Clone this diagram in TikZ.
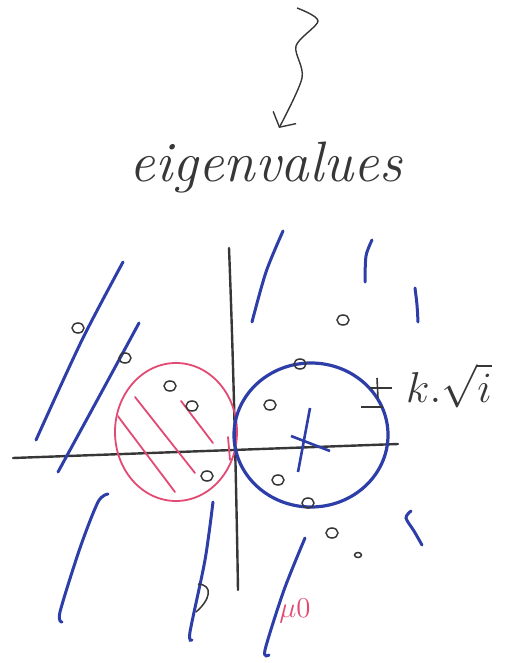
\documentclass[tikz,border=0pt]{standalone}
\usetikzlibrary{arrows.meta}

\definecolor{stylo}{RGB}{45,62,168}
\definecolor{rose}{RGB}{226,74,115}
\definecolor{crayon}{RGB}{55,55,55}

\begin{document}
\begin{tikzpicture}[x=1pt,y=-1pt,
  trait/.style={stylo,line width=3pt,line cap=round},
  axe/.style={crayon,line width=2.4pt,line cap=round},
  rond/.style={crayon,line width=1.5pt},
  hachure/.style={rose,line width=1.8pt,line cap=round}]

\useasboundingbox (0,0) rectangle (510,663);

% Fleche
\draw[crayon,line width=1.4pt,-{Straight Barb[length=11pt,width=26pt]}]
plot[smooth] coordinates {(297,8) (318,21) (296,46) (302,78) (279,128)};

\node[crayon] (titre) at (266,168)
{\fontsize{57}{57}\selectfont\itshape eigenvalues};

% Axes
\draw[axe] (229,248) .. controls (233,350) and (236,470) .. (238,590);

\draw[axe] (13,458) -- (398,444);

% Disque rose
\draw[rose,line width=1.8pt] (176,432) ellipse [x radius=61pt, y radius=69pt];

\begin{scope}
\clip (176,432) ellipse [x radius=60pt, y radius=68pt];
\draw[hachure] (117,415) -- (175,492);
\draw[hachure] (135,397) -- (195,473);
\draw[hachure] (181,401) -- (213,443);
\draw[hachure] (228,437) -- (230,460);
\end{scope}

% Disque bleu
\draw[stylo,line width=3.2pt] (311,435) ellipse [x radius=77pt, y radius=72pt];

\draw[stylo,line width=2.6pt] (310,408) -- (298,472);
\draw[stylo,line width=2.6pt] (291,436) -- (330,451);

\draw[crayon,line width=1.6pt] (370,388) -- (392,388);
\draw[crayon,line width=1.6pt] (377,378) -- (378,398);
\draw[crayon,line width=1.6pt] (361,407) -- (383,407);

\node[crayon] (rayon) at (449,386)
{\scalebox{3}{\Large $k.\sqrt{i}$}};

% Traits bleus
\draw[trait] plot[smooth] coordinates {(123,262) (82,340) (36,440)};
\draw[trait] plot[smooth] coordinates {(139,323) (100,395) (58,472)};
\draw[trait] plot[smooth] coordinates {(283,231) (266,272) (252,322)};
\draw[trait] plot[smooth] coordinates {(372,240) (366,256) (365,282)};
\draw[trait] plot[smooth] coordinates {(415,288) (417,305) (418,322)};
\draw[trait] plot[smooth] coordinates {(108,494) (98,502) (80,548) (60,612) (62,622)};
\draw[trait] plot[smooth] coordinates {(213,502) (205,560) (190,632) (192,640)};
\draw[trait] plot[smooth] coordinates {(305,538) (284,590) (265,650) (269,655)};
\draw[trait] plot[smooth] coordinates {(411,511) (406,518) (414,531) (422,545)};

% Valeurs propres
\foreach \x/\y in {78/328,125/358,170/386,192/406,207/476,343/320,
  300/364,270/405,278/480,308/503,332/533}
{
\draw[rond] (\x,\y) ellipse [x radius=6pt, y radius=5pt];
}

\draw[rond] (358,555) ellipse [x radius=3.5pt, y radius=2.5pt];

\draw[rond] (198,584) .. controls (214,585) and (210,600) .. (196,612);

\node[rose] (mu) at (295,611)
{\scalebox{2}{\Large $\mu$0}};

\end{tikzpicture}
\end{document}
